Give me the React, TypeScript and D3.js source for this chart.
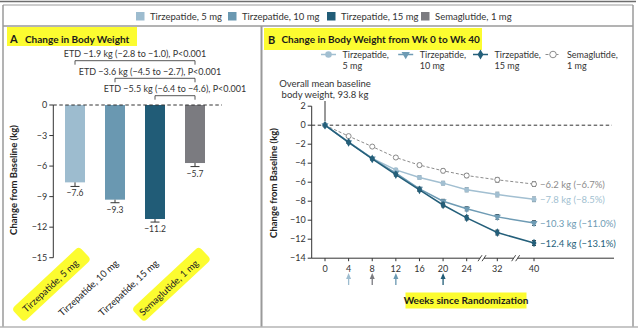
import React from "react";
import * as d3 from "d3";

// ---------- data ----------
const groups = ["Tirzepatide, 5 mg", "Tirzepatide, 10 mg", "Tirzepatide, 15 mg", "Semaglutide, 1 mg"];
const groupColors = ["#9dbccf", "#6a98b1", "#215c77", "#7b7b80"];
const barValues = [-7.6, -9.3, -11.2, -5.7];
const barSE = [0.4, 0.3, 0.3, 0.35];
const barTicks = [0, -3, -6, -9, -12, -15];
const etdTexts = [
  "ETD −1.9 kg (−2.8 to −1.0), P<0.001",
  "ETD −3.6 kg (−4.5 to −2.7), P<0.001",
  "ETD −5.5 kg (−6.4 to −4.6), P<0.001",
];
const etdFrom = [0, 1, 2];

const weeks = [0, 4, 8, 12, 16, 20, 24, 32, 40];
const weekTicks = [0, 4, 8, 12, 16, 20, 24, 32, 40];
const lineTicks = [2, 0, -2, -4, -6, -8, -10, -12, -14];
const tirz5 = [0, -1.75, -3.5, -4.7, -5.5, -6.1, -6.8, -7.3, -7.8];
const tirz10 = [0, -1.8, -3.5, -5.05, -6.7, -8.0, -8.8, -9.65, -10.3];
const tirz15 = [0, -1.8, -3.55, -5.2, -6.8, -8.4, -9.75, -11.3, -12.4];
const sema = [0, -1.15, -2.25, -3.4, -4.2, -4.8, -5.3, -5.75, -6.2];
const seTirz5 = [0, 0.1, 0.12, 0.15, 0.18, 0.2, 0.22, 0.25, 0.25];
const seTirz10 = [0, 0.1, 0.12, 0.15, 0.18, 0.2, 0.22, 0.25, 0.25];
const seTirz15 = [0, 0.1, 0.12, 0.15, 0.18, 0.2, 0.22, 0.25, 0.25];
const seSema = [0, 0.1, 0.12, 0.15, 0.18, 0.2, 0.22, 0.25, 0.25];
const lineLegend1 = ["Tirzepatide,", "Tirzepatide,", "Tirzepatide,", "Semaglutide,"];
const lineLegend2 = ["5 mg", "10 mg", "15 mg", "1 mg"];
const endLabels = ["−7.8 kg (−8.5%)", "−10.3 kg (−11.0%)", "−12.4 kg (−13.1%)", "−6.2 kg (−6.7%)"];
const escalationWeeks = [4, 8, 12, 20];
const escalationGroup = [0, 3, 1, 2];

const FONT = "Lato, 'Open Sans', sans-serif";
const YEL = "#fcfc30";
const FRAME = "#9a9a9a";
const minus = (v: number) => (v < 0 ? "−" + Math.abs(v) : String(v));

export default function App() {
  // ---- panel A scales ----
  const xA = d3.scaleBand<string>().domain(groups).range([55, 215]).paddingInner(0.5).paddingOuter(0.25);
  const yA = d3.scaleLinear().domain([0, -15]).range([105, 257.7]);
  const axA = 53.3;

  // ---- panel B scales ----
  const xB = d3.scaleLinear().domain([0, 24, 32, 40]).range([325, 466.7, 497.3, 534]);
  const yB = d3.scaleLinear().domain([2, -14]).range([106.2, 258.2]);
  const axB = 311.7;
  const series = [
    { v: tirz5, se: seTirz5, c: "#a2bfd1", ec: "#6f8a99", marker: "circle", dash: "" },
    { v: tirz10, se: seTirz10, c: "#6e9bb4", ec: "#3c5664", marker: "tri", dash: "" },
    { v: tirz15, se: seTirz15, c: "#245f7a", ec: "#1b2d36", marker: "diamond", dash: "" },
    { v: sema, se: seSema, c: "#8c8c8c", ec: "#6a6a6a", marker: "open", dash: "3,2" },
  ];
  const lineGen = d3
    .line<number>()
    .x((_, i) => xB(weeks[i]))
    .y((d) => yB(d));
  const drawMarker = (s: any, x: number, y: number, key: string, big = false) => (
    <path
      key={key}
      d={
        s.marker === "tri"
          ? d3.symbol().type(d3.symbolTriangle).size(big ? 30 : 22)()
          : s.marker === "diamond"
          ? d3.symbol().type(d3.symbolDiamond).size(big ? 30 : 22)()
          : d3.symbol().type(d3.symbolCircle).size(big ? 34 : 20)()
      }
      transform={`translate(${x},${y})${s.marker === "tri" ? " rotate(180)" : ""}`}
      fill={s.marker === "open" ? "#fff" : s.c}
      stroke={s.marker === "open" ? s.c : "none"}
      strokeWidth={1}
    />
  );

  const legendX = [136, 228, 327, 421];
  const lineLegX = [328.5, 405.7, 480.5, 553];

  return (
    <div style={{ position: "absolute", left: 0, top: 0 }}>
      <svg width={638} height={330} style={{ display: "block", fontFamily: FONT }}>
        <rect width={638} height={330} fill="#fff" />
        {/* frame */}
        <line x1={0} x2={636} y1={1.5} y2={1.5} stroke="#6e6e6e" strokeWidth={1.5} />
        <line x1={3} x2={633} y1={5} y2={5} stroke={FRAME} strokeWidth={1} />
        <line x1={3} x2={3} y1={5} y2={327} stroke={FRAME} strokeWidth={1.5} />
        <line x1={633} x2={633} y1={5} y2={327} stroke={FRAME} strokeWidth={1.5} />
        <line x1={3} x2={633} y1={26} y2={26} stroke={FRAME} strokeWidth={1.5} />
        <line x1={261.5} x2={261.5} y1={26} y2={327} stroke={FRAME} strokeWidth={2} />
        <line x1={0} x2={638} y1={327} y2={327} stroke="#b5b5b5" strokeWidth={1.5} />

        {/* top legend */}
        {groups.map((g, i) => (
          <g key={g}>
            <rect x={legendX[i]} y={12} width={8.5} height={8.5} fill={groupColors[i]} />
            <text x={legendX[i] + 14} y={19.5} fontSize={9.5} fill="#333">
              {g}
            </text>
          </g>
        ))}

        {/* ---------- Panel A ---------- */}
        <rect x={7} y={27} width={130} height={19} fill={YEL} />
        <text x={10} y={43} fontSize={11} fontWeight={700} fill="#1a1a1a">
          A
        </text>
        <text x={25} y={42.5} fontSize={10} fontWeight={700} fill="#1a1a1a">
          Change in Body Weight
        </text>

        {etdTexts.map((t, i) => {
          const x1 = (xA(groups[etdFrom[i]]) as number) + xA.bandwidth() / 2;
          const x2 = (xA(groups[3]) as number) + xA.bandwidth() / 2;
          const by = [60.7, 78.3, 95.7][i];
          const tx = (x1 + x2) / 2 + [0, -5, 0][i];
          return (
            <g key={t}>
              <text x={tx} y={by - 3.7} fontSize={9} textAnchor="middle" fill="#333">
                {t}
              </text>
              <path d={`M${x1},${by + 4}V${by}H${x2}V${by + 4}`} fill="none" stroke="#444" strokeWidth={0.9} />
            </g>
          );
        })}

        {/* y axis A */}
        <line x1={axA} x2={axA} y1={yA(0)} y2={yA(-15)} stroke="#333" strokeWidth={1} />
        {barTicks.map((t) => (
          <g key={t}>
            <line x1={axA - 4} x2={axA} y1={yA(t)} y2={yA(t)} stroke="#333" strokeWidth={1} />
            <text x={axA - 6} y={yA(t) + 3} fontSize={9} textAnchor="end" fill="#333">
              {minus(t)}
            </text>
          </g>
        ))}
        <text transform={`translate(17,180) rotate(-90)`} fontSize={9.5} fontWeight={700} textAnchor="middle" fill="#222">
          Change from Baseline (kg)
        </text>

        {/* bars */}
        {groups.map((g, i) => {
          const x = xA(g) as number;
          const cx = x + xA.bandwidth() / 2;
          const yb = yA(barValues[i]);
          const ye = yA(barValues[i] - barSE[i]);
          return (
            <g key={g}>
              <rect x={x} y={yA(0)} width={xA.bandwidth()} height={yb - yA(0)} fill={groupColors[i]} />
              <line x1={cx} x2={cx} y1={yb} y2={ye} stroke="#333" strokeWidth={1} />
              <line x1={cx - 4.5} x2={cx + 4.5} y1={ye} y2={ye} stroke="#333" strokeWidth={1} />
              <text x={cx} y={ye + 10} fontSize={8.5} textAnchor="middle" fill="#333">
                {minus(barValues[i])}
              </text>
            </g>
          );
        })}
        <line x1={axA} x2={222} y1={yA(0)} y2={yA(0)} stroke="#333" strokeWidth={1} strokeDasharray="3.5,2.5" />

        {/* category labels */}
        {groups.map((g, i) => {
          const cx = (xA(g) as number) + xA.bandwidth() / 2;
          const hl = i === 0 || i === 3;
          return (
            <g key={g} transform={`translate(${cx + 4},${264}) rotate(-43)`}>
              {hl && <rect x={-80} y={-13} width={92} height={18} rx={4} fill={YEL} />}
              <text x={0} y={0} fontSize={9.5} textAnchor="end" fill="#222">
                {g}
              </text>
            </g>
          );
        })}

        {/* ---------- Panel B ---------- */}
        <rect x={264} y={28} width={218} height={22} fill={YEL} />
        <text x={268} y={43.5} fontSize={11} fontWeight={700} fill="#1a1a1a">
          B
        </text>
        <text x={281.5} y={43} fontSize={10} fontWeight={700} fill="#1a1a1a">
          Change in Body Weight from Wk 0 to Wk 40
        </text>

        {/* line legend */}
        {series.map((s, i) => (
          <g key={i}>
            <line
              x1={lineLegX[i] - 7.5}
              x2={lineLegX[i] + 7.5}
              y1={54.5}
              y2={54.5}
              stroke={s.c}
              strokeWidth={s.dash ? 1 : 1.5}
              strokeDasharray={s.dash}
            />
            {drawMarker(s, lineLegX[i], 54.5, "m" + i, true)}
            <text x={lineLegX[i] + 14} y={57.5} fontSize={9} fill="#333">
              {lineLegend1[i]}
            </text>
            <text x={lineLegX[i] + 14} y={69} fontSize={9} fill="#333">
              {lineLegend2[i]}
            </text>
          </g>
        ))}

        {/* baseline annotation */}
        <text x={xB(0)} y={86.5} fontSize={9.5} textAnchor="middle" fill="#333">
          Overall mean baseline
        </text>
        <text x={xB(0)} y={97.5} fontSize={9.5} textAnchor="middle" fill="#333">
          body weight, 93.8 kg
        </text>
        <line x1={xB(0)} x2={xB(0)} y1={101} y2={121} stroke="#333" strokeWidth={1} />

        {/* axes B */}
        <line x1={axB} x2={axB} y1={yB(2)} y2={yB(-14)} stroke="#333" strokeWidth={1} />
        {lineTicks.map((t) => (
          <g key={t}>
            <line x1={axB - 4} x2={axB} y1={yB(t)} y2={yB(t)} stroke="#333" strokeWidth={1} />
            <text x={axB - 6} y={yB(t) + 3} fontSize={9} textAnchor="end" fill="#333">
              {minus(t)}
            </text>
          </g>
        ))}
        <line x1={axB} x2={614} y1={yB(-14)} y2={yB(-14)} stroke="#333" strokeWidth={1} />
        {weekTicks.map((w) => (
          <g key={w}>
            <line x1={xB(w)} x2={xB(w)} y1={yB(-14)} y2={yB(-14) + 3} stroke="#333" strokeWidth={1} />
            <text x={xB(w)} y={271.5} fontSize={9} textAnchor="middle" fill="#333">
              {w}
            </text>
          </g>
        ))}
        {[28, 36].map((w) => {
          const bx = xB(w);
          const by = yB(-14);
          return (
            <g key={w}>
              <rect x={bx - 2} y={by - 2} width={4} height={4} fill="#fff" />
              <line x1={bx - 4} x2={bx} y1={by + 3} y2={by - 3} stroke="#333" strokeWidth={0.9} />
              <line x1={bx} x2={bx + 4} y1={by + 3} y2={by - 3} stroke="#333" strokeWidth={0.9} />
            </g>
          );
        })}
        <text transform={`translate(276.5,183) rotate(-90)`} fontSize={9.5} fontWeight={700} textAnchor="middle" fill="#222">
          Change from Baseline (kg)
        </text>
        <line x1={axB} x2={612} y1={yB(0)} y2={yB(0)} stroke="#333" strokeWidth={1} strokeDasharray="3.5,2.5" />

        {/* escalation arrows */}
        {escalationWeeks.map((w, i) => {
          const x = xB(w);
          const c = groupColors[escalationGroup[i]];
          return (
            <g key={w}>
              <line x1={x} x2={x} y1={285} y2={278} stroke={c} strokeWidth={1.3} />
              <path d={`M${x},${273}L${x - 2.5},${279}L${x + 2.5},${279}Z`} fill={c} />
            </g>
          );
        })}

        {/* series */}
        {[3, 0, 1, 2].map((si) => {
          const s = series[si];
          return (
            <g key={si}>
              <path d={lineGen(s.v) as string} fill="none" stroke={s.c} strokeWidth={s.dash ? 1 : 1.5} strokeDasharray={s.dash} />
              {s.v.map((v, i) =>
                i === 0 ? null : (
                  <g key={i}>
                    <line x1={xB(weeks[i])} x2={xB(weeks[i])} y1={yB(v + s.se[i])} y2={yB(v - s.se[i])} stroke={s.ec} strokeWidth={1} />
                    <line x1={xB(weeks[i]) - 2} x2={xB(weeks[i]) + 2} y1={yB(v + s.se[i])} y2={yB(v + s.se[i])} stroke={s.ec} strokeWidth={1} />
                    <line x1={xB(weeks[i]) - 2} x2={xB(weeks[i]) + 2} y1={yB(v - s.se[i])} y2={yB(v - s.se[i])} stroke={s.ec} strokeWidth={1} />
                  </g>
                )
              )}
              {s.v.map((v, i) => drawMarker(s, xB(weeks[i]), yB(v), "p" + i))}
              <text x={540} y={yB(s.v[s.v.length - 1]) + 3.5} fontSize={9.5} fill={s.c}>
                {endLabels[si]}
              </text>
            </g>
          );
        })}

        {/* x title */}
        <rect x={405.5} y={292.5} width={121} height={16} fill={YEL} />
        <text x={466} y={303.5} fontSize={10} fontWeight={700} textAnchor="middle" fill="#1a1a1a">
          Weeks since Randomization
        </text>
      </svg>
    </div>
  );
}
